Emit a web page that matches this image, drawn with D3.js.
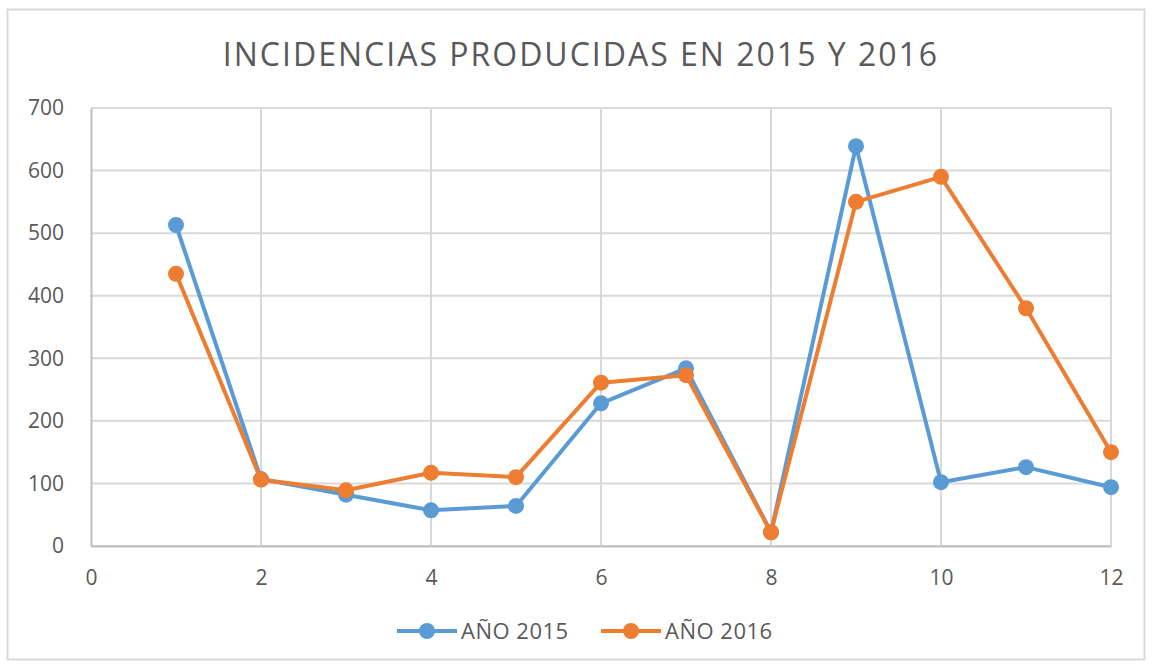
<!DOCTYPE html>
<html>
<head>
<meta charset="utf-8">
<script src="https://cdn.jsdelivr.net/npm/d3@7"></script>
<style>
  body { margin: 0; background: #fff; }
  text { font-family: "Open Sans", "DejaVu Sans", sans-serif; fill: #595959; }
</style>
</head>
<body>
<div id="chart"></div>
<script>
// data
var meses = [1, 2, 3, 4, 5, 6, 7, 8, 9, 10, 11, 12];
var ano2015 = [513, 107, 82, 57, 64, 228, 284, 22, 639, 102, 126, 94];
var ano2016 = [435, 106, 89, 117, 110, 261, 273, 22, 550, 590, 380, 150];
var xTicks = [0, 2, 4, 6, 8, 10, 12];
var yTicks = [0, 100, 200, 300, 400, 500, 600, 700];

var svgWidth = 1152;
var svgHeight = 664;
var margin = { top: 108, right: 41, bottom: 118, left: 91 };
var width = svgWidth - margin.left - margin.right;
var height = svgHeight - margin.top - margin.bottom;

var svg = d3.select("#chart").append("svg")
    .attr("width", svgWidth)
    .attr("height", svgHeight);

// outer frame
svg.append("rect")
    .attr("x", 7.5).attr("y", 9.5)
    .attr("width", 1137).attr("height", 650)
    .attr("fill", "none")
    .attr("stroke", "#d9d9d9")
    .attr("stroke-width", 2);

svg.append("text")
    .attr("x", 581).attr("y", 66)
    .attr("text-anchor", "middle")
    .attr("font-size", "32px")
    .attr("letter-spacing", "2px")
    .text("INCIDENCIAS PRODUCIDAS EN 2015 Y 2016");

var chartGroup = svg.append("g")
    .attr("transform", `translate(${margin.left}, ${margin.top})`);

var x = d3.scaleLinear().domain([0, 12]).range([0, width]);
var y = d3.scaleLinear().domain([0, 700]).range([height, 0]);

// gridlines
chartGroup.append("g")
    .selectAll("line.h")
    .data(yTicks)
    .enter().append("line")
    .attr("x1", 0).attr("x2", width)
    .attr("y1", d => y(d)).attr("y2", d => y(d))
    .attr("stroke", "#d9d9d9").attr("stroke-width", 2);

chartGroup.append("g")
    .selectAll("line.v")
    .data(xTicks.slice(1))
    .enter().append("line")
    .attr("x1", d => x(d)).attr("x2", d => x(d))
    .attr("y1", 0).attr("y2", height)
    .attr("stroke", "#d9d9d9").attr("stroke-width", 2);

// axes
var leftAxis = d3.axisLeft(y).tickValues(yTicks).tickSize(0).tickPadding(27);
var bottomAxis = d3.axisBottom(x).tickValues(xTicks).tickSize(0).tickPadding(24);

var yAxis = chartGroup.append("g").call(leftAxis);
var xAxis = chartGroup.append("g")
    .attr("transform", `translate(0, ${height})`)
    .call(bottomAxis);

[xAxis, yAxis].forEach(function(a) {
    a.select(".domain").attr("stroke", "#bfbfbf").attr("stroke-width", 2);
    a.selectAll("text")
        .attr("font-family", "'Open Sans', sans-serif")
        .attr("font-size", "21px")
        .attr("fill", "#595959");
});

// series
var series = [
    { name: "AÑO 2015", values: ano2015, color: "#5b9bd5" },
    { name: "AÑO 2016", values: ano2016, color: "#ed7d31" }
];

var line = d3.line()
    .x((d, i) => x(meses[i]))
    .y(d => y(d));

series.forEach(function(s) {
    chartGroup.append("path")
        .datum(s.values)
        .attr("d", line)
        .attr("fill", "none")
        .attr("stroke", s.color)
        .attr("stroke-width", 4)
        .attr("stroke-linejoin", "round");

    chartGroup.selectAll(null)
        .data(s.values)
        .enter().append("circle")
        .attr("cx", (d, i) => x(meses[i]))
        .attr("cy", d => y(d))
        .attr("r", 8)
        .attr("fill", s.color);
});

// legend
var legendX = [397, 601];
var legend = svg.append("g");
series.forEach(function(s, i) {
    var g = legend.append("g").attr("transform", `translate(${legendX[i]}, 631)`);
    g.append("line")
        .attr("x1", 0).attr("x2", 60)
        .attr("stroke", s.color).attr("stroke-width", 4);
    g.append("circle").attr("cx", 30).attr("r", 8).attr("fill", s.color);
    g.append("text")
        .attr("x", 64).attr("dy", "0.36em")
        .attr("font-size", "22px")
        .attr("letter-spacing", "0.5px")
        .text(s.name);
});
</script>
</body>
</html>
